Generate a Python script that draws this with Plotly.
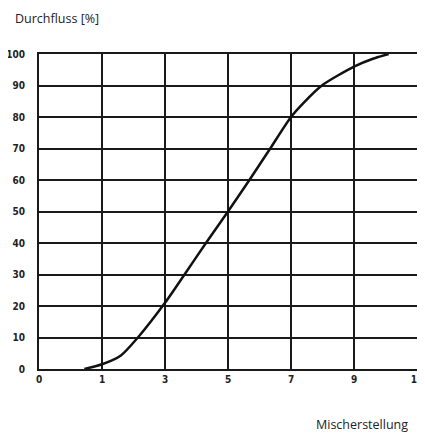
import plotly.graph_objects as go

# Axis categories (equally spaced on the chart)
x_tick_labels = ["0", "1", "3", "5", "7", "9", "10"]
x_tick_positions = [0, 1, 2, 3, 4, 5, 6]
y_ticks = [0, 10, 20, 30, 40, 50, 60, 70, 80, 90, 100]

# Curve: position along the Mischerstellung scale (index units) and Durchfluss [%]
curve_pos = [0.72, 1.0, 1.3, 1.57, 2.0, 2.31, 2.65, 3.0, 3.34, 3.67, 4.0, 4.2, 4.49, 5.0, 5.3, 5.55]
curve_flow = [0, 1.5, 4.3, 10, 21, 30, 40, 50, 60, 70, 80, 84.5, 90, 96, 98.5, 100]

tick_font = dict(family="DejaVu Sans Condensed, Liberation Sans Narrow, DejaVu Sans, sans-serif",
                 size=10, color="#222", weight="bold")
text_font = dict(family="Open Sans, Noto Sans, sans-serif", size=12.5, color="#222")

# page body has an 8px margin; plot area placed at about x 39..417, y 54..369.5 on the page
W, H = 425, 428
L, R, T, B = 31, 16, 46, 66.5
pw, ph = W - L - R, H - T - B

fig = go.Figure()
fig.add_trace(go.Scatter(
    x=curve_pos, y=curve_flow, mode="lines",
    line=dict(color="#111", width=2.5, shape="spline", smoothing=0.7),
    hoverinfo="skip", showlegend=False,
))

fig.update_layout(
    width=W, height=H,
    margin=dict(l=L, r=R, t=T, b=B, pad=0),
    paper_bgcolor="white", plot_bgcolor="white",
    xaxis=dict(
        range=[0, 6], tickvals=x_tick_positions, ticktext=x_tick_labels,
        showgrid=True, gridcolor="#1a1a1a", gridwidth=2,
        showline=True, linecolor="#1a1a1a", linewidth=2, mirror=True,
        zeroline=False, ticks="", tickfont=tick_font, ticklabelstandoff=12,
        ticklabeloverflow="allow",
        fixedrange=True, automargin=False,
    ),
    yaxis=dict(
        range=[0, 100], tickvals=y_ticks,
        showgrid=True, gridcolor="#1a1a1a", gridwidth=2,
        showline=True, linecolor="#1a1a1a", linewidth=2, mirror=True,
        zeroline=False, ticks="", tickfont=tick_font, ticklabelstandoff=10,
        ticklabeloverflow="allow",
        fixedrange=True, automargin=False,
    ),
    annotations=[
        dict(text="Durchfluss [%]", xref="paper", yref="paper",
             x=(5 - L) / pw, y=1 + 36 / ph, xanchor="left", yanchor="middle",
             showarrow=False, font=text_font),
        dict(text="Mischerstellung", xref="paper", yref="paper",
             x=(402 - L) / pw, y=-55.5 / ph, xanchor="right", yanchor="middle",
             showarrow=False, font=text_font),
    ],
)

# a second pass over the x tick labels once the page is laid out
redraw_js = (
    "var gd = document.getElementById('{plot_id}');"
    "if (gd && window.Plotly) { Plotly.relayout(gd, {'xaxis.ticklabelstandoff': 12.01}); }"
)

fig.write_html("out.html", post_script=redraw_js)
